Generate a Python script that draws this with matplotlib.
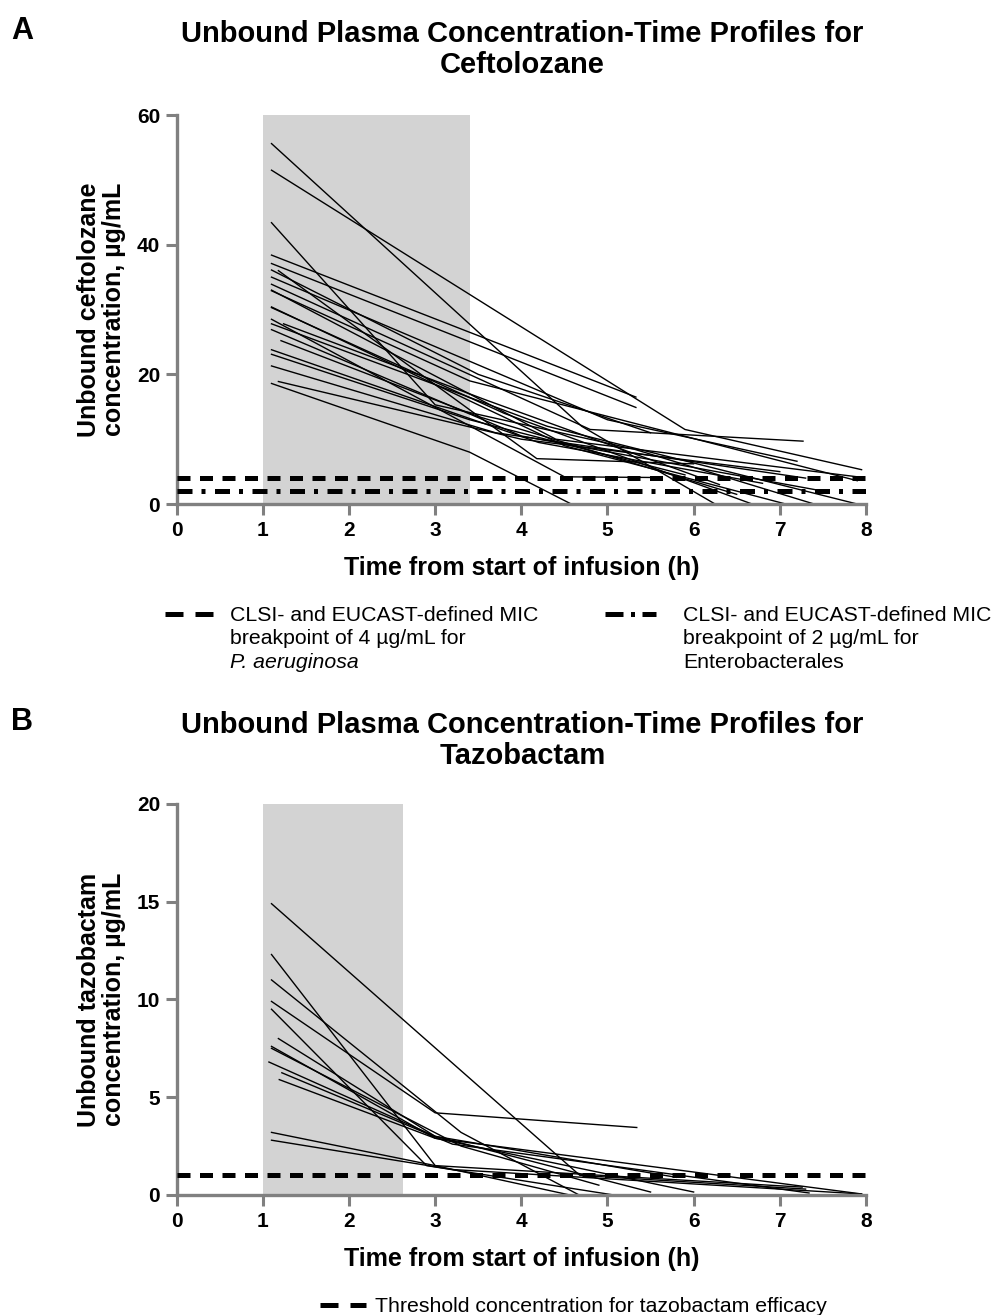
import matplotlib
matplotlib.use("Agg")
import matplotlib.pyplot as plt
from matplotlib.lines import Line2D

plt.rcParams['font.family'] = ['Liberation Sans', 'DejaVu Sans']

# ceftolozane unbound profiles: (times h, concentrations ug/mL) per patient
ceft_times = [
    [1.10, 4.70, 6.25],
    [1.10, 5.90, 7.95],
    [1.10, 3.00, 5.30, 7.40],
    [1.10, 5.33],
    [1.10, 5.33],
    [1.18, 4.18, 6.00],
    [1.10, 4.80, 7.27],
    [1.10, 5.00, 7.20],
    [1.10, 3.40, 7.90],
    [1.10, 4.50, 7.07],
    [1.10, 3.80, 6.68],
    [1.10, 4.30, 7.90],
    [1.24, 3.60, 6.30],
    [1.10, 4.00, 7.50],
    [1.21, 3.50, 6.50],
    [1.10, 4.20, 6.80],
    [1.10, 3.40, 5.90],
    [1.10, 3.70, 7.30],
    [1.10, 3.40, 4.58],
    [1.18, 4.00, 7.00],
    [1.10, 3.50, 5.50],
    [1.10, 4.40, 7.90],
    [1.10, 4.50, 5.50],
]
ceft_conc = [
    [55.6, 12.0, 0.0],
    [51.5, 11.5, 5.3],
    [43.4, 15.3, 8.5, 0.0],
    [38.4, 16.5],
    [37.1, 14.9],
    [36.0, 7.0, 6.2],
    [33.9, 11.5, 9.7],
    [35.0, 13.0, 6.6],
    [32.9, 19.0, 3.6],
    [30.4, 9.0, 0.0],
    [30.3, 14.0, 0.0],
    [27.8, 12.0, 0.0],
    [27.8, 16.0, 3.0],
    [26.9, 10.5, 2.0],
    [25.2, 13.5, 1.5],
    [23.8, 9.5, 3.2],
    [23.1, 13.0, 4.5],
    [21.3, 11.0, 4.0],
    [18.6, 8.0, 0.0],
    [18.9, 10.0, 5.0],
    [36.1, 20.0, 11.0],
    [33.0, 10.0, 4.2],
    [28.5, 4.2, 4.1],
]

# tazobactam unbound profiles
tazo_times = [
    [1.10, 4.68, 7.30],
    [1.10, 3.00, 4.56],
    [1.10, 3.30, 4.67],
    [1.10, 3.00, 5.34],
    [1.10, 2.90, 5.07],
    [1.18, 3.00, 5.50],
    [1.10, 3.00, 6.00],
    [1.10, 3.30, 4.90],
    [1.07, 3.00, 5.80],
    [1.22, 3.20, 7.34],
    [1.19, 3.00, 7.95],
    [1.10, 3.00, 7.26],
    [1.10, 3.20, 7.95],
]
tazo_conc = [
    [14.9, 1.0, 0.3],
    [12.3, 1.5, 0.0],
    [11.0, 3.2, 0.0],
    [9.9, 4.2, 3.45],
    [9.5, 1.5, 0.0],
    [8.0, 3.0, 0.15],
    [7.6, 2.9, 0.15],
    [7.5, 2.5, 0.5],
    [6.8, 3.0, 0.9],
    [6.25, 2.6, 0.1],
    [5.9, 2.9, 0.05],
    [3.2, 1.5, 0.4],
    [2.8, 1.3, 0.05],
]

ceft_infusion = (1.0, 3.4)
tazo_infusion = (1.0, 2.63)
ceft_mic = [4, 2]
tazo_threshold = 1

GRAY = '#808080'
DASH = (0, (2.6, 1.9))
DASHDOT = (0, (3.0, 1.8, 0.8, 1.9))
LEG_DASH = (0, (3.6, 2.4))
LEG_DASHDOT = (0, (3.6, 1.5, 0.8, 1.5, 3.6, 10))


def style_axes(ax, ymax, ystep):
    ax.set_xlim(0, 8)
    ax.set_ylim(0, ymax)
    ax.set_xticks(range(0, 9))
    ax.set_yticks(range(0, ymax + 1, ystep))
    for s in ['top', 'right']:
        ax.spines[s].set_visible(False)
    for s in ['left', 'bottom']:
        ax.spines[s].set_color(GRAY)
        ax.spines[s].set_linewidth(2.4)
    ax.tick_params(axis='both', length=8, width=2.2, color=GRAY,
                   labelsize=15, pad=4)
    for lab in ax.get_xticklabels() + ax.get_yticklabels():
        lab.set_fontweight('bold')
    ax.set_xlabel('Time from start of infusion (h)', fontsize=18,
                  fontweight='bold', labelpad=12)


fig = plt.figure(figsize=(9.93, 13.15), dpi=100)

# panel A
axA = fig.add_axes([0.178, 0.6167, 0.694, 0.2958])
axA.axvspan(*ceft_infusion, color='#d3d3d3', lw=0, zorder=0)
for t, c in zip(ceft_times, ceft_conc):
    axA.plot(t, c, color='black', lw=1.0, zorder=2)
axA.axhline(ceft_mic[0], color='black', lw=3.6, ls=DASH, zorder=3)
axA.axhline(ceft_mic[1], color='black', lw=3.6, ls=DASHDOT, zorder=3)
style_axes(axA, 60, 20)
axA.set_ylabel('Unbound ceftolozane\nconcentration, µg/mL', fontsize=18,
               fontweight='bold', labelpad=8, linespacing=1.05)

# panel B
axB = fig.add_axes([0.178, 0.0913, 0.694, 0.2973])
axB.axvspan(*tazo_infusion, color='#d3d3d3', lw=0, zorder=0)
for t, c in zip(tazo_times, tazo_conc):
    axB.plot(t, c, color='black', lw=1.0, zorder=2)
axB.axhline(tazo_threshold, color='black', lw=3.6, ls=DASH, zorder=3)
style_axes(axB, 20, 5)
axB.set_ylabel('Unbound tazobactam\nconcentration, µg/mL', fontsize=18,
               fontweight='bold', labelpad=8, linespacing=1.05)

# titles and panel letters
fig.text(0.526, 1 - 20 / 1315, 'Unbound Plasma Concentration-Time Profiles for\nCeftolozane',
         ha='center', va='top', fontsize=21, fontweight='bold', linespacing=1.15)
fig.text(0.526, 1 - 711 / 1315, 'Unbound Plasma Concentration-Time Profiles for\nTazobactam',
         ha='center', va='top', fontsize=21, fontweight='bold', linespacing=1.15)
fig.text(11 / 993, 1 - 16 / 1315, 'A', ha='left', va='top', fontsize=22, fontweight='bold')
fig.text(11 / 993, 1 - 707 / 1315, 'B', ha='left', va='top', fontsize=22, fontweight='bold')


# legends (manual, handle aligned to first text line)
def legend_item(x0, x1, xt, y, ls, lines, italic_last=False):
    fy = 1 - y / 1315
    fig.add_artist(Line2D([x0 / 993, x1 / 993], [fy, fy], transform=fig.transFigure,
                          color='black', lw=3.6, ls=ls))
    for i, line in enumerate(lines):
        style = 'italic' if (italic_last and i == len(lines) - 1) else 'normal'
        fig.text(xt / 993, 1 - (y - 8 + i * 23.5) / 1315, line, ha='left', va='top',
                 fontsize=15.3, style=style)


legend_item(165, 216, 230, 614, LEG_DASH,
            ['CLSI- and EUCAST-defined MIC', 'breakpoint of 4 µg/mL for', 'P. aeruginosa'],
            italic_last=True)
legend_item(605, 656, 683, 614, LEG_DASHDOT,
            ['CLSI- and EUCAST-defined MIC', 'breakpoint of 2 µg/mL for', 'Enterobacterales'])
legend_item(320, 366, 375, 1305, LEG_DASH,
            ['Threshold concentration for tazobactam efficacy'])

fig.savefig('out.png', dpi=100)
